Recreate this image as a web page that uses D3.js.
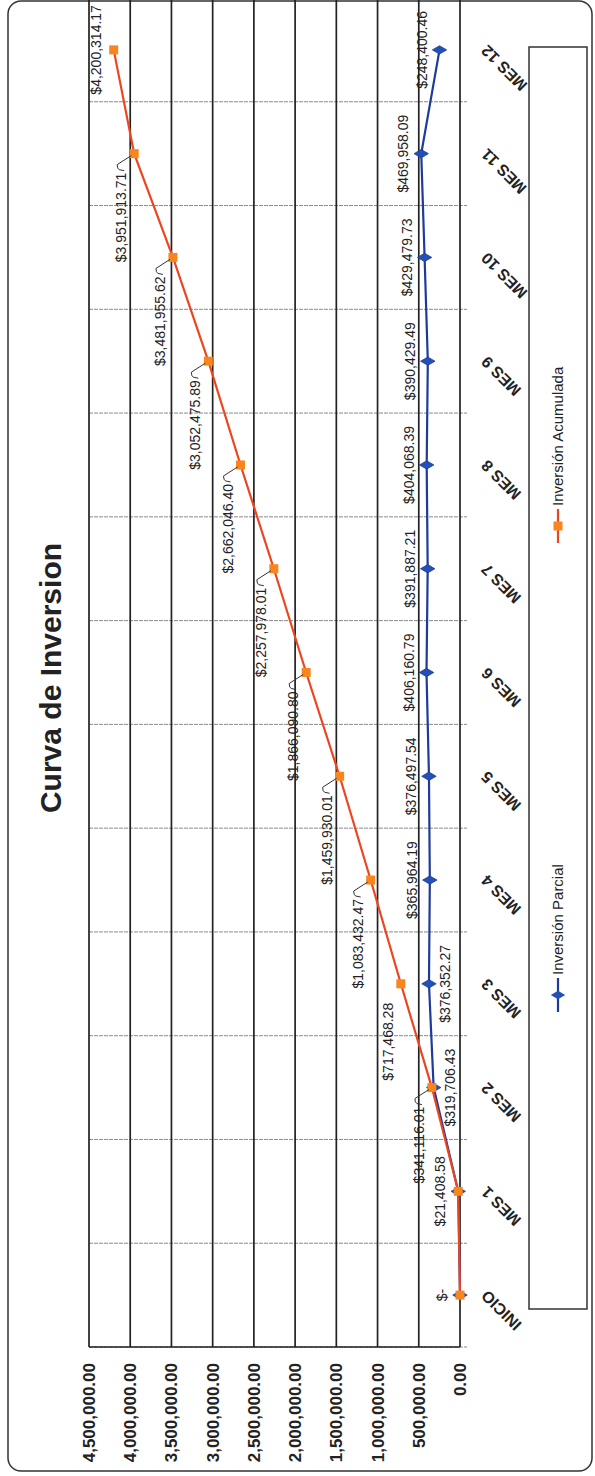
<!DOCTYPE html>
<html><head><meta charset="utf-8">
<script src="https://cdn.jsdelivr.net/npm/d3@7"></script>
<style>body{margin:0;background:#fff}svg{display:block}</style>
</head><body>
<script>
const title = "Curva de Inversion";
const categories = ["INICIO","MES 1","MES 2","MES 3","MES 4","MES 5","MES 6","MES 7","MES 8","MES 9","MES 10","MES 11","MES 12"];
const parcial = [0, 21408.58, 319706.43, 376352.27, 365964.19, 376497.54, 406160.79, 391887.21, 404068.39, 390429.49, 429479.73, 469958.09, 248400.46];
const acumulada = [0, 21408.58, 341116.01, 717468.28, 1083432.47, 1459930.01, 1866090.80, 2257978.01, 2662046.40, 3052475.89, 3481955.62, 3951913.71, 4200314.17];
const yTicks = [0, 500000, 1000000, 1500000, 2000000, 2500000, 3000000, 3500000, 4000000, 4500000];
const seriesNames = ["Inversión Parcial", "Inversión Acumulada"];
const parcialLabelsBelow = ["MES 2", "MES 3"];

const PW = 595, PH = 1476;
const svg = d3.select("body").append("svg").attr("width", PW).attr("height", PH);
const g = svg.append("g").attr("transform", `translate(0,${PH}) rotate(-90)`);

const blueLine = "#1e3a9a", blueMark = "#2350b5";
const orLine = "#ec4620", orMark = "#f7861e";
const font = "'Liberation Sans', Arial, sans-serif";

// outer border
g.append("rect").attr("x", 5).attr("y", 8).attr("width", 1470).attr("height", 584)
  .attr("rx", 13).attr("fill", "none").attr("stroke", "#333").attr("stroke-width", 1.5);

const x = d3.scaleBand().domain(categories).range([129, 1478]).padding(0);
const y = d3.scaleLinear().domain([0, 4500000]).range([460, 89]);
const cx = c => x(c) + x.bandwidth() / 2;

// category separators
const seps = categories.map(c => x(c)).concat([x.range()[1]]);
g.append("g").selectAll("line").data(seps).join("line")
  .attr("x1", d => d).attr("x2", d => d).attr("y1", y(4500000)).attr("y2", y(0) + 7)
  .attr("stroke", "#8a8a8a").attr("stroke-width", 1).attr("stroke-dasharray", "4,1");

// value gridlines
g.append("g").selectAll("line").data(yTicks).join("line")
  .attr("x1", 129).attr("x2", 1478).attr("y1", d => y(d)).attr("y2", d => y(d))
  .attr("stroke", "#222").attr("stroke-width", 1.7);
g.append("line").attr("x1", 129).attr("x2", 129).attr("y1", y(4500000)).attr("y2", y(0))
  .attr("stroke", "#222").attr("stroke-width", 1.7);

// value tick labels
g.append("g").selectAll("text").data(yTicks).join("text")
  .attr("x", 113).attr("y", d => y(d)).attr("dy", "0.35em")
  .attr("text-anchor", "end").attr("font-family", font).attr("font-weight", "bold")
  .attr("font-size", 17).attr("fill", "#222")
  .text(d => d3.format(",.2f")(d));

// category labels
g.append("g").selectAll("text").data(categories).join("text")
  .attr("transform", d => `translate(${cx(d) + 6},${y(0) + 28}) rotate(-45)`)
  .attr("text-anchor", "end").attr("font-family", font).attr("font-weight", "bold")
  .attr("font-size", 16).attr("fill", "#222").text(d => d);

// title
g.append("text").attr("x", 798).attr("y", 61).attr("text-anchor", "middle")
  .attr("font-family", font).attr("font-weight", "bold").attr("font-size", 30)
  .attr("fill", "#222").text(title);

const fmt = v => v === 0 ? "$-" : "$" + d3.format(",.2f")(v);
const line = d3.line().x((d, i) => cx(categories[i])).y(d => y(d));

g.append("path").datum(parcial).attr("d", line).attr("fill", "none")
  .attr("stroke", blueLine).attr("stroke-width", 2.2);
g.append("path").datum(acumulada).attr("d", line).attr("fill", "none")
  .attr("stroke", orLine).attr("stroke-width", 2.2);

const diamond = d3.symbol().type(d3.symbolDiamond).size(60);
g.append("g").selectAll("path").data(parcial).join("path")
  .attr("d", diamond).attr("transform", (d, i) => `translate(${cx(categories[i])},${y(d)})`)
  .attr("fill", blueMark).attr("stroke", blueLine).attr("stroke-width", 0.8);
g.append("g").selectAll("rect").data(acumulada).join("rect")
  .attr("x", (d, i) => cx(categories[i]) - 4.5).attr("y", d => y(d) - 4.5)
  .attr("width", 9).attr("height", 9).attr("fill", orMark);

// parcial data labels
g.append("g").selectAll("text").data(parcial).join("text")
  .attr("x", (d, i) => cx(categories[i]))
  .attr("y", (d, i) => parcialLabelsBelow.includes(categories[i]) ? y(d) + 21 : y(d) - 13)
  .attr("text-anchor", "middle").attr("font-family", font).attr("font-size", 14)
  .attr("fill", "#222").text(d => fmt(d));

// acumulada data labels (first two coincide with parcial)
const acc = acumulada.map((v, i) => ({v, i})).filter(d => d.i >= 2);
const last = acumulada.length - 1;
const OFFX = 19, OFFY = 13;
g.append("g").selectAll("text").data(acc).join("text")
  .attr("x", d => d.i === last ? cx(categories[d.i]) : cx(categories[d.i]) - OFFX)
  .attr("y", d => d.i === last ? y(d.v) - 13 : y(d.v) - OFFY + 5)
  .attr("text-anchor", d => d.i === last ? "middle" : "end")
  .attr("font-family", font).attr("font-size", 14).attr("fill", "#222")
  .text(d => fmt(d.v));
// leader lines
g.append("g").selectAll("path").data(acc.filter(d => d.i !== last && d.i !== 3)).join("path")
  .attr("d", d => {
    const px = cx(categories[d.i]), py = y(d.v);
    const ex = px - OFFX, cy = py - OFFY;
    return `M${ex + 2},${cy + 3} L${ex + 3},${cy - 2} Q${ex + 4},${cy - 4} ${ex + 8},${cy - 4} L${px - 2},${py - 3}`;
  })
  .attr("fill", "none").attr("stroke", "#333").attr("stroke-width", 1);

// legend
g.append("rect").attr("x", 167).attr("y", 529).attr("width", 1262).attr("height", 58)
  .attr("fill", "none").attr("stroke", "#333").attr("stroke-width", 1.5);
const legend = [
  {name: seriesNames[0], x0: 464, lc: blueLine, mc: blueMark, shape: "diamond"},
  {name: seriesNames[1], x0: 933, lc: orLine, mc: orMark, shape: "square"}
];
const lg = g.append("g").selectAll("g").data(legend).join("g")
  .attr("transform", d => `translate(${d.x0},558)`);
lg.append("line").attr("x1", 0).attr("x2", 34).attr("stroke", d => d.lc).attr("stroke-width", 2.2);
lg.filter(d => d.shape === "diamond").append("path").attr("d", diamond)
  .attr("transform", "translate(17,0)").attr("fill", d => d.mc);
lg.filter(d => d.shape === "square").append("rect").attr("x", 12.5).attr("y", -4.5)
  .attr("width", 9).attr("height", 9).attr("fill", d => d.mc);
lg.append("text").attr("x", 37).attr("dy", "0.35em").attr("font-family", font)
  .attr("font-size", 15).attr("fill", "#222").text(d => d.name);
</script>
</body></html>
